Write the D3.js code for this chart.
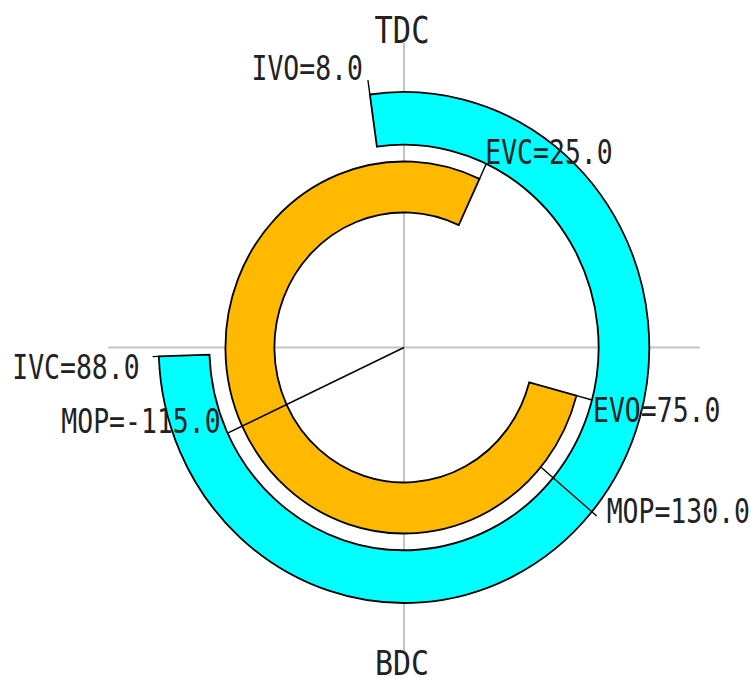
<!DOCTYPE html>
<html><head><meta charset="utf-8">
<script src="https://cdn.jsdelivr.net/npm/d3@7"></script>
<style>html,body{margin:0;padding:0;background:#fff;overflow:hidden}</style>
</head><body>
<svg id="c" width="751" height="684"></svg>
<script>
// ---------- data ----------
const eventNames  = ["IVO", "IVC", "EVO", "EVC"];
const eventValues = [8.0, 88.0, 75.0, 25.0];
const mopNames    = ["MOP", "MOP"];
const mopValues   = [130.0, -115.0];
const axisLabels  = ["TDC", "BDC"];

// crank angles, clockwise from TDC
const ivoAngle = -eventValues[0];
const ivcAngle = 180 + eventValues[1];
const evoAngle = 180 - eventValues[2];
const evcAngle = 360 + eventValues[3];

// ---------- layout ----------
const cx = 404, cy = 347.5, aspect = 0.96;
const R = {intakeIn: 202.75, intakeOut: 255.5, exhIn: 135, exhOut: 186, axisV: 304.5, axisH: 308};
const angle = d3.scaleLinear().domain([0, 360]).range([0, 2 * Math.PI]);
function pt(deg, r) {
  const a = angle(deg);
  return [cx + aspect * r * Math.sin(a), cy - r * Math.cos(a)];
}
const svg = d3.select("#c");
const FONT = "DejaVu Sans Mono";

// axes
const axisG = svg.append("g").attr("stroke", "#c4c4c4").attr("stroke-width", 2);
[[0, 180], [270, 90]].forEach(([a, b], i) => {
  const r = i === 0 ? R.axisV : R.axisH;
  const p1 = pt(a, r), p2 = pt(b, r);
  axisG.append("line").attr("x1", p1[0]).attr("y1", p1[1]).attr("x2", p2[0]).attr("y2", p2[1]);
});

// rings
const ringG = svg.append("g").attr("transform", `translate(${cx},${cy}) scale(${aspect},1)`);
const arc = d3.arc();
ringG.append("path")
  .attr("d", arc({innerRadius: R.intakeIn, outerRadius: R.intakeOut, startAngle: angle(ivoAngle), endAngle: angle(ivcAngle)}))
  .attr("fill", "#00ffff").attr("stroke", "#000").attr("stroke-width", 1.8)
  .attr("vector-effect", "non-scaling-stroke");
ringG.append("path")
  .attr("d", arc({innerRadius: R.exhIn, outerRadius: R.exhOut, startAngle: angle(evoAngle), endAngle: angle(evcAngle)}))
  .attr("fill", "#ffb900").attr("stroke", "#000").attr("stroke-width", 1.8)
  .attr("vector-effect", "non-scaling-stroke");

// leaders
const leaderG = svg.append("g").attr("stroke", "#000").attr("stroke-width", 1.4);
function leader(deg, r1, r2) {
  const a = pt(deg, r1), b = pt(deg, r2);
  leaderG.append("line").attr("x1", a[0]).attr("y1", a[1]).attr("x2", b[0]).attr("y2", b[1]);
  return b;
}
const labelSize = 33.5, labelSx = 0.79;
function label(text, x, y, anchor, size, sx) {
  svg.append("text")
    .attr("transform", `translate(${x},${y}) scale(${sx},1)`)
    .attr("text-anchor", anchor)
    .attr("font-family", FONT).attr("font-size", size)
    .attr("fill", "#222").text(text);
}
const fmt = (n, v) => `${n}=${v.toFixed(1)}`;

// event leaders + labels
const eIVO = leader(ivoAngle, R.intakeOut, 270);
const eIVC = leader(ivcAngle, R.intakeOut, 262);
const eEVO = leader(evoAngle, R.exhOut, R.intakeIn);
const eEVC = leader(evcAngle, R.exhOut, R.intakeIn);
const mopI = leader(mopValues[0], R.exhOut, 262);
const mopE = leader(mopValues[1] + 360, 0, R.intakeIn);

label(fmt(eventNames[0], eventValues[0]), eIVO[0] - 5, eIVO[1], "end", labelSize, labelSx);
label(fmt(eventNames[1], eventValues[1]), eIVC[0] - 13, eIVC[1] + 22, "end", labelSize, labelSx);
label(fmt(eventNames[2], eventValues[2]), eEVO[0] + 1, eEVO[1] + 22, "start", labelSize, labelSx);
label(fmt(eventNames[3], eventValues[3]), eEVC[0] - 1, eEVC[1], "start", labelSize, labelSx);
label(fmt(mopNames[0], mopValues[0]), mopI[0] + 10, mopI[1] + 7, "start", labelSize, labelSx);
label(fmt(mopNames[1], mopValues[1]), mopE[0] - 7, mopE[1], "end", labelSize, labelSx);

// TDC / BDC
const tdcPt = pt(0, R.axisV), bdcPt = pt(180, R.axisV);
label(axisLabels[0], tdcPt[0] - 2, tdcPt[1], "middle", 38, 0.8);
label(axisLabels[1], bdcPt[0] - 2, bdcPt[1] + 23, "middle", 34, 0.88);
</script>
</body></html>
